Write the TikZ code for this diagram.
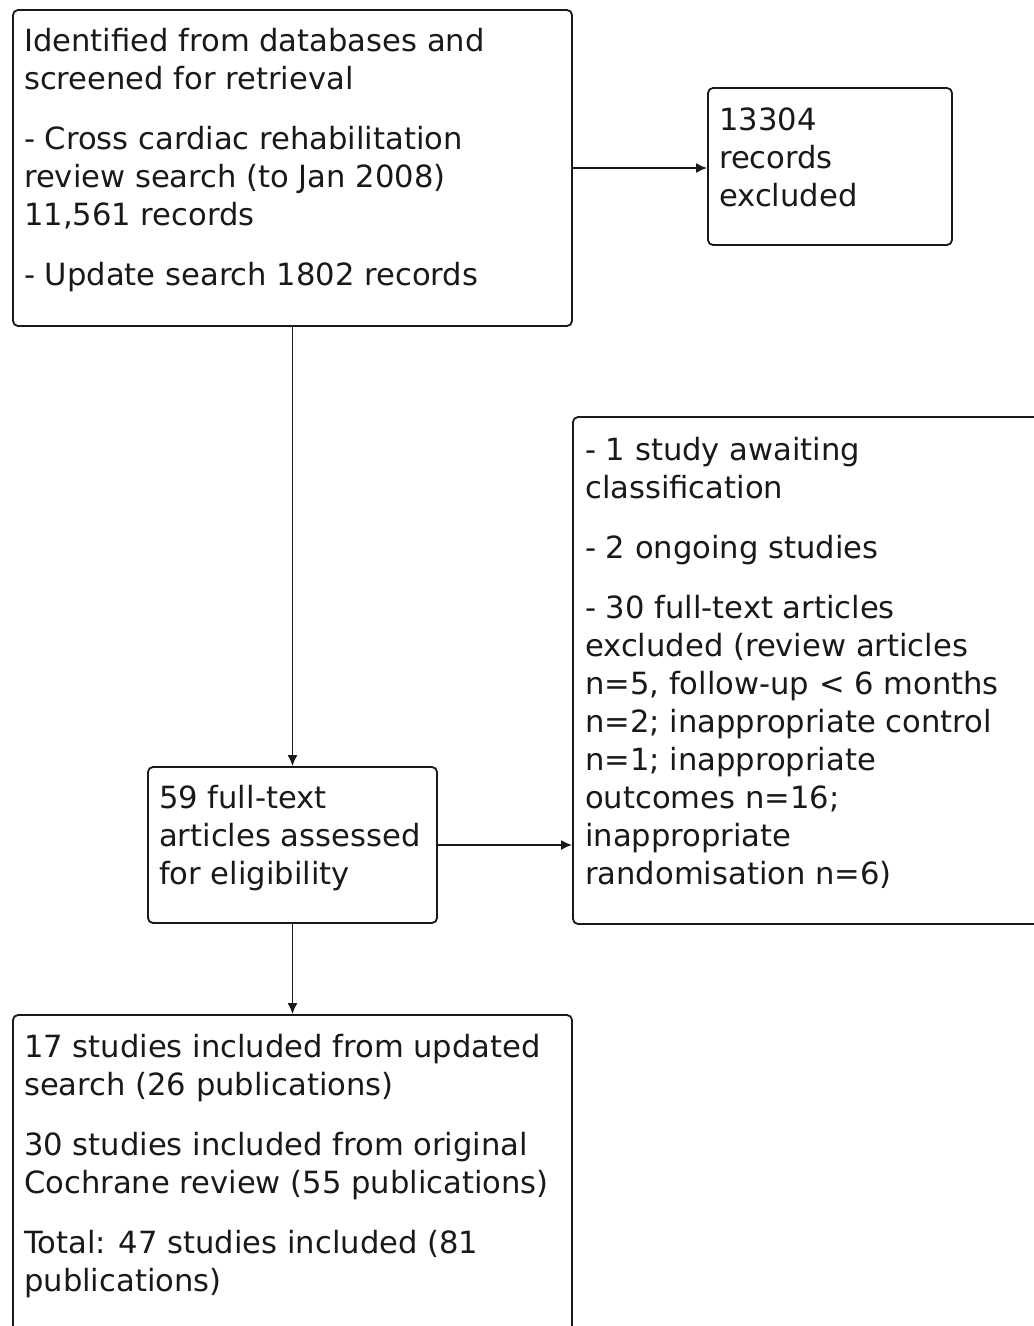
\documentclass[tikz,border=0pt]{standalone}
\usepackage{fontspec}
\setmainfont{DejaVu Sans}
\usetikzlibrary{arrows.meta}
\definecolor{ink}{RGB}{25,25,25}
\begin{document}
\begin{tikzpicture}[x=1pt,y=-1pt,
  box/.style={draw=ink, line width=1.8pt, rounded corners=5pt, inner sep=0pt, fill=white},
  txt/.style={anchor=north west, inner sep=0pt, align=left, text=ink, font=\fontsize{30.6}{38}\selectfont},
  conn/.style={draw=ink, line width=1.8pt, -{Latex[length=11pt,width=10pt]}}]
\useasboundingbox (0,0) rectangle (1034,1326);
\clip (0,0) rectangle (1034,1326);
\fill[white] (0,0) rectangle (1034,1326);
\node[box, minimum width=559pt, minimum height=316pt] (b1) at (292.5,168) {};
\node[box, minimum width=244pt, minimum height=157pt] (b2) at (830,166.5) {};
\node[box, minimum width=289pt, minimum height=156pt] (b3) at (292.5,845) {};
\node[box, minimum width=500pt, minimum height=507pt] (b4) at (823,670.5) {};
\node[box, minimum width=559pt, minimum height=340pt] (b5) at (292.5,1185) {};

\node[txt] (t1) at (24,26) {\rule{0pt}{25pt}Identified from databases and\\ screened for retrieval\\[22pt]
 - Cross cardiac rehabilitation\\ review search (to Jan 2008)\\ 11,561 records\\[22pt]
 - Update search 1802 records};
\node[txt] (t2) at (719,105) {\rule{0pt}{25pt}13304\\ records\\ excluded};
\node[txt] (t3) at (159,783) {\rule{0pt}{25pt}59 full-text\\ articles assessed\\ for eligibility};
\node[txt] (t4) at (585,435) {\rule{0pt}{25pt}- 1 study awaiting\\ classification\\[22pt]
 - 2 ongoing studies\\[22pt]
 - 30 full-text articles\\ excluded (review articles\\ n=5, follow-up < 6 months\\ n=2; inappropriate control\\ n=1; inappropriate\\ outcomes n=16;\\ inappropriate\\ randomisation n=6)};
\node[txt] (t5) at (24,1032) {\rule{0pt}{25pt}17 studies included from updated\\ search (26 publications)\\[22pt]
 30 studies included from original\\ Cochrane review (55 publications)\\[22pt]
 Total: 47 studies included (81\\ publications)};

\draw[conn] (b1.south) -- (b3.north);
\draw[conn] (b1.east) -- (b1.east -| b2.west);
\draw[conn] (b3.east) -- (b3.east -| b4.west);
\draw[conn] (b3.south) -- (b5.north);
\end{tikzpicture}
\end{document}
